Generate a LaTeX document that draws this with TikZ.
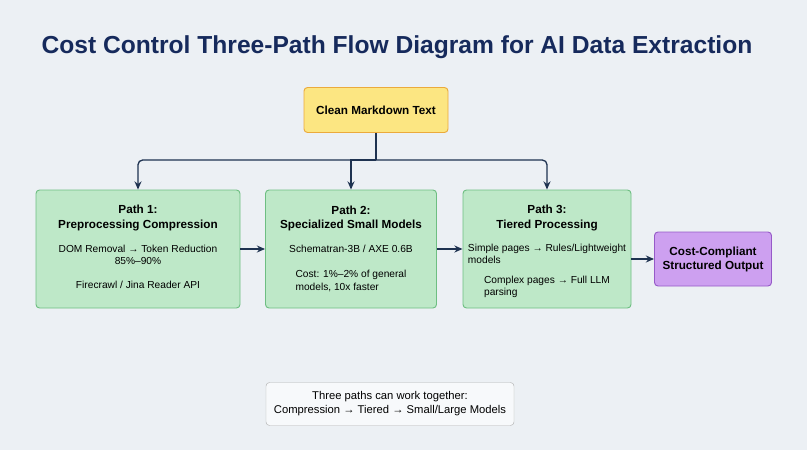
\documentclass[tikz,border=0pt]{standalone}
\usepackage{fontspec}
\setmainfont{Liberation Sans}
\usetikzlibrary{arrows.meta, positioning}
\definecolor{bgcol}{RGB}{236,240,244}
\definecolor{titlecol}{RGB}{22,42,92}
\definecolor{linecol}{RGB}{30,50,80}
\definecolor{pathfill}{RGB}{190,232,200}
\definecolor{pathdraw}{RGB}{110,190,130}
\definecolor{srcfill}{RGB}{252,230,130}
\definecolor{srcdraw}{RGB}{235,170,60}
\definecolor{outfill}{RGB}{205,160,240}
\definecolor{outdraw}{RGB}{150,90,200}
\tikzset{
  path box/.style = {rectangle, rounded corners=3pt, draw=pathdraw, fill=pathfill, line width=0.8pt, align=center},
  path title/.style = {font=\fontsize{10pt}{12pt}\selectfont\bfseries, align=center},
  path text/.style = {font=\fontsize{8.7pt}{10.5pt}\selectfont},
  arrow/.style = {-{Stealth[length=7pt, width=6pt]}, line width=1.1pt, draw=linecol}}
\begin{document}
\begin{tikzpicture}[x=0.03cm, y=-0.03cm]
    \fill[bgcol] (0,0) rectangle (807,450);
    \node (title) at (397,47) {\fontsize{21pt}{24pt}\selectfont\bfseries\color{titlecol}Cost Control Three-Path Flow Diagram for AI Data Extraction};
    \node (clean) [rectangle, rounded corners=3pt, draw=srcdraw, fill=srcfill, line width=0.8pt, minimum width=144*0.03cm, minimum height=45*0.03cm, font=\fontsize{10pt}{12pt}\selectfont\bfseries] at (376,110) {Clean Markdown Text};

    \node (path1) [path box, minimum width=204*0.03cm, minimum height=118*0.03cm] at (138,249) {};
    \node (path2) [path box, minimum width=171*0.03cm, minimum height=118*0.03cm] at (351,249) {};
    \node (path3) [path box, minimum width=168*0.03cm, minimum height=118*0.03cm] at (547,249) {};
    \node (output) [rectangle, rounded corners=3pt, draw=outdraw, fill=outfill, line width=0.8pt, minimum width=117*0.03cm, minimum height=54*0.03cm, align=center, font=\fontsize{10pt}{12pt}\selectfont\bfseries] at (713,259) {Cost-Compliant\\Structured Output};

    % texts inside the three paths
    \node [path title] at (138,218) {Path 1:\\Preprocessing Compression};
    \node [path text, align=center] at (138,255) {DOM Removal → Token Reduction\\85\%–90\%};
    \node [path text] at (138,285) {Firecrawl / Jina Reader API};
    \node [path title] at (351,218) {Path 2:\\Specialized Small Models};
    \node [path text] at (351,249) {Schematran-3B / AXE 0.6B};
    \node [path text, align=left] at (351,281) {Cost: 1\%–2\% of general\\models, 10x faster};
    \node [path title] at (547,218) {Path 3:\\Tiered Processing};
    \node [path text, align=left] at (547,254) {Simple pages → Rules/Lightweight\\models};
    \node [path text, align=left] at (547,287) {Complex pages → Full LLM\\parsing};

    \node (note) [rectangle, rounded corners=3pt, draw=black!30, fill=white!60!bgcol, minimum width=248*0.03cm, minimum height=43*0.03cm, align=center, font=\fontsize{9.6pt}{12pt}\selectfont] at (390,404) {Three paths can work together:\\Compression → Tiered → Small/Large Models};

    \coordinate (split) at (376,160);
    \draw [line width=1.1pt, draw=linecol] (clean.south) -- (split);
    \draw [arrow, rounded corners=4pt] (split) -| (path1.north);
    \draw [arrow] (split) -| (path2.north);
    \draw [arrow, rounded corners=4pt] (split) -| (path3.north);
    \draw [arrow] (path1) -- (path2);
    \draw [arrow] (path2) -- (path3);
    \draw [arrow] (path3.east |- output) -- (output);
\end{tikzpicture}
\end{document}
